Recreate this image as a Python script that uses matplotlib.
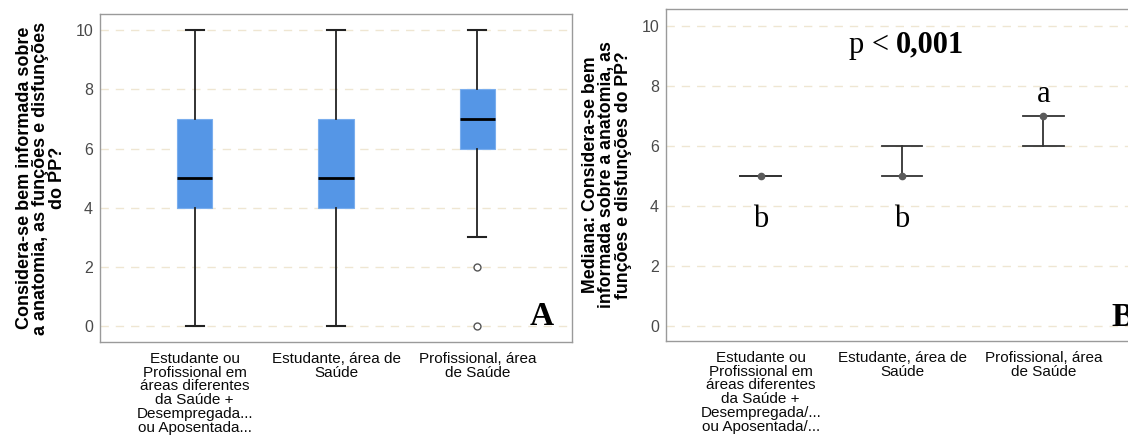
import matplotlib.pyplot as plt

# categories
cats_a = ["Estudante ou\nProfissional em\náreas diferentes\nda Saúde +\nDesempregada...\nou Aposentada...",
          "Estudante, área de\nSaúde",
          "Profissional, área\nde Saúde"]
cats_b = ["Estudante ou\nProfissional em\náreas diferentes\nda Saúde +\nDesempregada/...\nou Aposentada/...",
          "Estudante, área de\nSaúde",
          "Profissional, área\nde Saúde"]

# boxplot summary (panel A)
whislo = [0, 0, 3]
q1 = [4, 4, 6]
med = [5, 5, 7]
q3 = [7, 7, 8]
whishi = [10, 10, 10]
fliers = [[], [], [2, 0]]

# median with interval (panel B)
medians_b = [5, 5, 7]
low_b = [5, 5, 6]
high_b = [5, 6, 7]
letters = ["b", "b", "a"]
letter_y = [3.55, 3.55, 7.7]

ylab_a = "Considera-se bem informada sobre\na anatomia, as funções e disfunções\ndo PP?"
ylab_b = "Mediana: Considera-se bem\ninformada sobre a anatomia, as\nfunções e disfunções do PP?"

plt.rcParams['font.family'] = ['Liberation Sans', 'DejaVu Sans']

fig = plt.figure(figsize=(11.28, 4.38), dpi=100)
W, H = 1128, 438
ax1 = fig.add_axes([100 / W, 1 - 342 / H, 472 / W, 328 / H])
ax2 = fig.add_axes([666 / W, 1 - 341 / H, 472 / W, 332 / H])

grid_c = '#efe6d2'
spine_c = '#9a9a9a'

# panel A boxplot
stats = []
for i in range(3):
    stats.append(dict(med=med[i], q1=q1[i], q3=q3[i], whislo=whislo[i],
                      whishi=whishi[i], fliers=fliers[i]))
ax1.bxp(stats, positions=range(3), widths=0.25, patch_artist=True, manage_ticks=False,
        boxprops=dict(facecolor='#5596e6', edgecolor='#7aaeee', linewidth=0.8),
        medianprops=dict(color='black', linewidth=2),
        whiskerprops=dict(color='#222222', linewidth=1.3),
        capprops=dict(color='#222222', linewidth=1.5),
        capwidths=0.125,
        flierprops=dict(marker='o', markersize=5, markerfacecolor='white',
                        markeredgecolor='#555555', markeredgewidth=1),
        zorder=3)

# panel B medians with intervals
for i in range(3):
    ax2.plot([i, i], [low_b[i], high_b[i]], color='#333333', lw=1.3, zorder=3)
    for yv in (low_b[i], high_b[i]):
        ax2.plot([i - 0.145, i + 0.145], [yv, yv], color='#333333', lw=1.3, zorder=3)
    ax2.plot(i, medians_b[i], 'o', color='#5a5a5a', markersize=4.5, zorder=4)
    ax2.text(i, letter_y[i], letters[i], ha='center', va='center',
             fontsize=22, family='Liberation Serif')

for ax, cats in ((ax1, cats_a), (ax2, cats_b)):
    ax.set_xlim(-0.67, 2.67)
    ax.set_yticks([0, 2, 4, 6, 8, 10])
    for y in [0, 2, 4, 6, 8, 10]:
        ax.axhline(y, color=grid_c, lw=1, ls=(0, (6, 5)), zorder=0)
    for s in ax.spines.values():
        s.set_color(spine_c)
        s.set_linewidth(1)
    ax.tick_params(axis='y', length=0, pad=5, labelsize=11.5, labelcolor='#4a4a4a')
    ax.tick_params(axis='x', length=0, pad=7)
    ax.set_xticks(range(3))
    ax.set_xticklabels(cats, fontsize=11, linespacing=0.98, va='top', color='#0a0a0a')

ax1.set_ylim(-0.54, 10.55)
ax2.set_ylim(-0.49, 10.56)

ax1.set_ylabel(ylab_a, fontsize=13, fontweight='bold', linespacing=0.95, labelpad=7)
ax1.text(0.962, 0.03, "A", transform=ax1.transAxes, ha='right', va='bottom',
         fontsize=24, fontweight='bold', family='Liberation Serif')

ax2.set_ylabel(ylab_b, fontsize=12.8, fontweight='bold', linespacing=0.95, labelpad=7)
ax2.text(0.96, 9.35, "p < ", ha='right', va='center', fontsize=22, family='Liberation Serif')
ax2.text(0.96, 9.35, "0,001", ha='left', va='center', fontsize=22,
         fontweight='bold', family='Liberation Serif')
ax2.text(0.944, 0.025, "B", transform=ax2.transAxes, ha='left', va='bottom',
         fontsize=24, fontweight='bold', family='Liberation Serif')

fig.savefig("out.png", dpi=100)
